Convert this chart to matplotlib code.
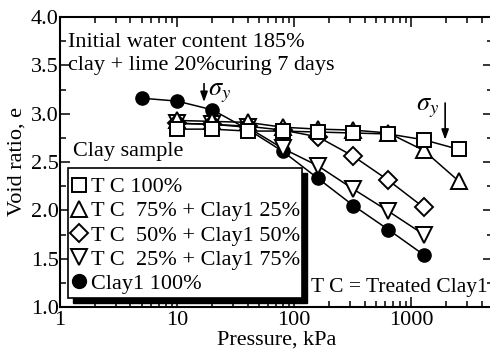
import matplotlib
matplotlib.use("Agg")
import matplotlib.pyplot as plt
from matplotlib.lines import Line2D
from matplotlib.patches import Rectangle
from matplotlib.ticker import FixedLocator, NullFormatter, MultipleLocator

plt.rcParams['font.family'] = ['Liberation Serif', 'DejaVu Serif']
plt.rcParams['mathtext.fontset'] = 'stix'

# Consolidation data: pressure (kPa) vs void ratio
p_clay1 = [5, 10, 20, 40, 80, 160, 320, 640, 1280]
e_clay1 = [3.16, 3.13, 3.04, 2.84, 2.61, 2.33, 2.05, 1.80, 1.54]

p_tc25 = [10, 20, 40, 80, 160, 320, 640, 1280]
e_tc25 = [2.90, 2.89, 2.86, 2.64, 2.46, 2.22, 1.99, 1.75]

p_tc50 = [10, 20, 40, 80, 160, 320, 640, 1280]
e_tc50 = [2.90, 2.89, 2.87, 2.83, 2.76, 2.56, 2.31, 2.03]

p_tc75 = [10, 20, 40, 80, 160, 320, 640, 1280, 2560]
e_tc75 = [2.93, 2.92, 2.91, 2.86, 2.84, 2.83, 2.80, 2.62, 2.30]

p_tc100 = [10, 20, 40, 80, 160, 320, 640, 1280, 2560]
e_tc100 = [2.84, 2.84, 2.82, 2.82, 2.81, 2.80, 2.79, 2.73, 2.63]

legend_labels = ["T C 100%", "T C  75% + Clay1 25%", "T C  50% + Clay1 50%",
                 "T C  25% + Clay1 75%", "Clay1 100%"]

W, H, DPI = 490, 349, 100
fig = plt.figure(figsize=(W / DPI, H / DPI), dpi=DPI)
ax_l, ax_r, ax_t, ax_b = 60, 493, 17, 307
ax = fig.add_axes([ax_l / W, 1 - ax_b / H, (ax_r - ax_l) / W, (ax_b - ax_t) / H])

lw = 1.1
mew = 1.4
ax.plot(p_clay1, e_clay1, '-o', color='black', lw=lw, ms=9.5, mfc='black', mec='black', zorder=3)
ax.plot(p_tc25, e_tc25, '-v', color='black', lw=lw, ms=11, mfc='white', mec='black', mew=mew, zorder=4)
ax.plot(p_tc50, e_tc50, '-D', color='black', lw=lw, ms=9, mfc='white', mec='black', mew=mew, zorder=5)
ax.plot(p_tc75, e_tc75, '-^', color='black', lw=lw, ms=11, mfc='white', mec='black', mew=mew, zorder=6)
ax.plot(p_tc100, e_tc100, '-s', color='black', lw=lw, ms=10, mfc='white', mec='black', mew=mew, zorder=7)

ax.set_xscale('log')
ax.set_xlim(1, 5000)
ax.set_ylim(1.0, 4.0)
ax.yaxis.set_major_locator(MultipleLocator(0.5))
ax.yaxis.set_minor_locator(MultipleLocator(0.25))
ax.set_yticklabels([f"{v:.1f}" for v in ax.get_yticks()])
ax.xaxis.set_major_locator(FixedLocator([1, 10, 100, 1000]))
ax.set_xticklabels(["1", "10", "100", "1000"])
minor = [m * 10 ** k for k in range(0, 4) for m in range(2, 10)]
ax.xaxis.set_minor_locator(FixedLocator(minor))
ax.xaxis.set_minor_formatter(NullFormatter())

fs = 16
ax.tick_params(which='both', direction='in', top=True, right=True, labelsize=fs, width=1.1)
ax.tick_params(which='major', length=7)
ax.tick_params(which='minor', length=4)
ax.tick_params(axis='x', pad=3)
ax.tick_params(axis='y', pad=1)
for s in ax.spines.values():
    s.set_linewidth(1.5)

ax.set_xlabel("Pressure, kPa", fontsize=fs, labelpad=0)
ax.set_ylabel("Void ratio, e", fontsize=fs, labelpad=3)

tf = ax.transAxes
ax.text(0.018, 0.912, "Initial water content 185%", transform=tf, fontsize=fs, va='center', ha='left')
ax.text(0.018, 0.832, "clay + lime 20%curing 7 days", transform=tf, fontsize=fs, va='center', ha='left')
ax.text(0.03, 0.535, "Clay sample", transform=tf, fontsize=fs, va='center', ha='left')
ax.text(0.58, 0.068, "T C = Treated Clay1", transform=tf, fontsize=15.5, va='center', ha='left', zorder=1)

# yield stress arrows
arrow = dict(arrowstyle='-|>,head_length=0.5,head_width=0.18', color='black', lw=1.2,
             mutation_scale=12, shrinkA=0, shrinkB=0)
ax.annotate("", xy=(17, 3.12), xytext=(17, 3.31), arrowprops=arrow)
ax.text(23, 3.21, r"$\sigma_y$", fontsize=fs + 3, va='center', ha='center')
ax.annotate("", xy=(1950, 2.73), xytext=(1950, 3.11), arrowprops=arrow)
ax.text(1380, 3.06, r"$\sigma_y$", fontsize=fs + 3, va='center', ha='center')

# legend box with a solid black drop shadow
bx0, bx1 = (68 - ax_l) / (ax_r - ax_l), (302 - ax_l) / (ax_r - ax_l)
by1, by0 = (ax_b - 168) / (ax_b - ax_t), (ax_b - 298) / (ax_b - ax_t)
dx, dy = 5 / (ax_r - ax_l), 5 / (ax_b - ax_t)
ax.add_patch(Rectangle((bx0 + dx, by0 - dy), bx1 - bx0, by1 - by0, transform=tf,
                       facecolor='black', edgecolor='black', zorder=8, clip_on=False))
ax.add_patch(Rectangle((bx0, by0), bx1 - bx0, by1 - by0, transform=tf,
                       facecolor='white', edgecolor='black', lw=1.2, zorder=9, clip_on=False))

handles = [
    Line2D([], [], ls='none', marker='s', ms=10, mfc='white', mec='black', mew=mew),
    Line2D([], [], ls='none', marker='^', ms=11, mfc='white', mec='black', mew=mew),
    Line2D([], [], ls='none', marker='D', ms=9, mfc='white', mec='black', mew=mew),
    Line2D([], [], ls='none', marker='v', ms=11, mfc='white', mec='black', mew=mew),
    Line2D([], [], ls='none', marker='o', ms=10, mfc='black', mec='black'),
]
leg = ax.legend(handles, legend_labels, loc='upper left', bbox_to_anchor=(bx0 - 0.005, by1 - 0.015),
                frameon=False, fontsize=fs, handlelength=0.8, handletextpad=0.12,
                labelspacing=0.16, borderaxespad=0, borderpad=0.2)
leg.set_zorder(10)

fig.savefig("out.png", dpi=DPI)
